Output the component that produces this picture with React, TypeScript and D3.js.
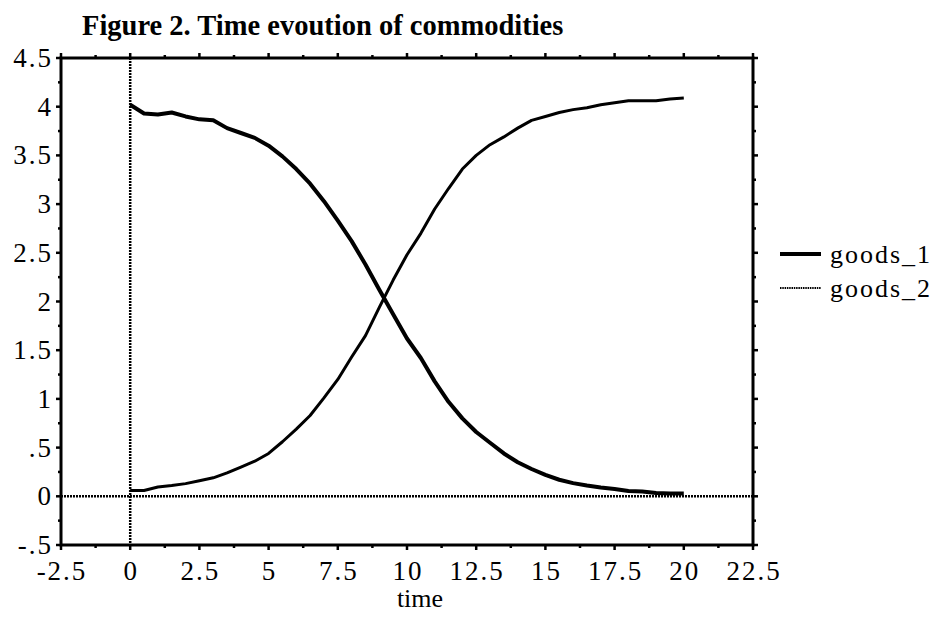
import React, { useEffect, useRef } from "react";
import * as d3 from "d3";

// time points (step 0.5) and the two series
const times = d3.range(0, 20.01, 0.5);
const goods1 = [
  4.02, 3.93, 3.92, 3.94, 3.9, 3.87, 3.86, 3.78, 3.73, 3.68, 3.6, 3.49, 3.36,
  3.21, 3.03, 2.83, 2.62, 2.38, 2.12, 1.87, 1.62, 1.42, 1.18, 0.97, 0.8, 0.66,
  0.55, 0.44, 0.35, 0.28, 0.22, 0.17, 0.135, 0.11, 0.09, 0.075, 0.055, 0.05,
  0.035, 0.03, 0.03,
];
const goods2 = [
  0.06, 0.06, 0.095, 0.11, 0.13, 0.16, 0.19, 0.24, 0.3, 0.36, 0.44, 0.56, 0.69,
  0.83, 1.01, 1.2, 1.43, 1.65, 1.94, 2.22, 2.48, 2.7, 2.95, 3.16, 3.36, 3.5,
  3.61, 3.69, 3.78, 3.86, 3.9, 3.94, 3.97, 3.99, 4.02, 4.04, 4.06, 4.06, 4.06,
  4.08, 4.09,
];
const seriesNames = ["goods_1", "goods_2"];
const xTicks = [-2.5, 0, 2.5, 5, 7.5, 10, 12.5, 15, 17.5, 20, 22.5];
const xTickLabels = ["-2.5", "0", "2.5", "5", "7.5", "10", "12.5", "15", "17.5", "20", "22.5"];
const yTicks = [-0.5, 0, 0.5, 1, 1.5, 2, 2.5, 3, 3.5, 4, 4.5];
const yTickLabels = ["-.5", "0", ".5", "1", "1.5", "2", "2.5", "3", "3.5", "4", "4.5"];

const FONT = "'Liberation Serif', 'Times New Roman', serif";

const Chart = () => {
  const svgRef = useRef<SVGSVGElement>(null);

  useEffect(() => {
    const width = 946;
    const height = 623;
    const margin = { top: 58, right: 193, bottom: 78, left: 61 };

    const svg = d3.select(svgRef.current);
    svg.selectAll("*").remove();
    svg.attr("width", width).attr("height", height);

    const x = d3.scaleLinear().domain([-2.5, 22.5]).range([margin.left, width - margin.right]);
    const y = d3.scaleLinear().domain([-0.5, 4.5]).range([height - margin.bottom, margin.top]);

    const [x0, x1] = x.range();
    const [yb, yt] = y.range();

    // dotted zero lines
    svg.append("line")
      .attr("x1", x(0)).attr("x2", x(0)).attr("y1", yt).attr("y2", yb)
      .attr("stroke", "#000").attr("stroke-width", 2.5).attr("stroke-dasharray", "2,1");
    svg.append("line")
      .attr("x1", x0).attr("x2", x1).attr("y1", y(0)).attr("y2", y(0))
      .attr("stroke", "#000").attr("stroke-width", 2.5).attr("stroke-dasharray", "2,1");

    // series lines
    const line = d3.line<number>().x((d, i) => x(times[i])).y((d) => y(d));
    svg.append("path").datum(goods1)
      .attr("fill", "none").attr("stroke", "#000").attr("stroke-width", 4)
      .attr("stroke-linejoin", "round").attr("d", line);
    svg.append("path").datum(goods2)
      .attr("fill", "none").attr("stroke", "#000").attr("stroke-width", 3)
      .attr("stroke-linejoin", "round").attr("d", line);

    // frame
    svg.append("rect")
      .attr("x", x0).attr("y", yt).attr("width", x1 - x0).attr("height", yb - yt)
      .attr("fill", "none").attr("stroke", "#000").attr("stroke-width", 3);

    // ticks, outward on all four sides
    const xMinor = d3.range(-2.5, 22.51, 1.25);
    const yMinor = d3.range(-0.5, 4.51, 0.25);
    const tickG = svg.append("g").attr("stroke", "#000").attr("stroke-width", 2.5);
    xMinor.forEach((v, i) => {
      const len = i % 2 === 0 ? 5 : 3;
      tickG.append("line").attr("x1", x(v)).attr("x2", x(v)).attr("y1", yb).attr("y2", yb + len);
      tickG.append("line").attr("x1", x(v)).attr("x2", x(v)).attr("y1", yt).attr("y2", yt - len);
    });
    yMinor.forEach((v, i) => {
      const len = i % 2 === 0 ? 5 : 3;
      tickG.append("line").attr("x1", x0).attr("x2", x0 - len).attr("y1", y(v)).attr("y2", y(v));
      tickG.append("line").attr("x1", x1).attr("x2", x1 + len).attr("y1", y(v)).attr("y2", y(v));
    });

    // tick labels
    svg.append("g").selectAll("text").data(xTicks).join("text")
      .attr("x", (d) => x(d) + 1).attr("y", 580)
      .attr("text-anchor", "middle")
      .style("font-family", FONT).style("font-size", "27px").style("letter-spacing", "2px")
      .text((d, i) => xTickLabels[i]);
    svg.append("g").selectAll("text").data(yTicks).join("text")
      .attr("x", 53).attr("y", (d) => y(d) + 9)
      .attr("text-anchor", "end")
      .style("font-family", FONT).style("font-size", "27px").style("letter-spacing", "2px")
      .text((d, i) => yTickLabels[i]);

    // title and axis label
    svg.append("text")
      .attr("x", 82).attr("y", 35)
      .style("font-family", FONT).style("font-size", "28.5px").style("font-weight", "bold")
      .text("Figure 2. Time evoution of commodities");
    svg.append("text")
      .attr("x", 420).attr("y", 607).attr("text-anchor", "middle")
      .style("font-family", FONT).style("font-size", "26px")
      .text("time");

    // legend
    const legend = svg.append("g");
    seriesNames.forEach((name, i) => {
      const ly = 254 + i * 34;
      legend.append("line")
        .attr("x1", 780).attr("x2", 821).attr("y1", ly).attr("y2", ly)
        .attr("stroke", "#000")
        .attr("stroke-width", i === 0 ? 4 : 2)
        .attr("stroke-dasharray", i === 0 ? null : "1.5,0.8");
      legend.append("text")
        .attr("x", 830).attr("y", ly + 9)
        .style("font-family", FONT).style("font-size", "26px").style("letter-spacing", "2px")
        .text(name);
    });
  }, []);

  return <svg ref={svgRef}></svg>;
};

export default function App() {
  return (
    <div style={{ position: "absolute", left: 0, top: 0, background: "#fff" }}>
      <Chart />
    </div>
  );
}
